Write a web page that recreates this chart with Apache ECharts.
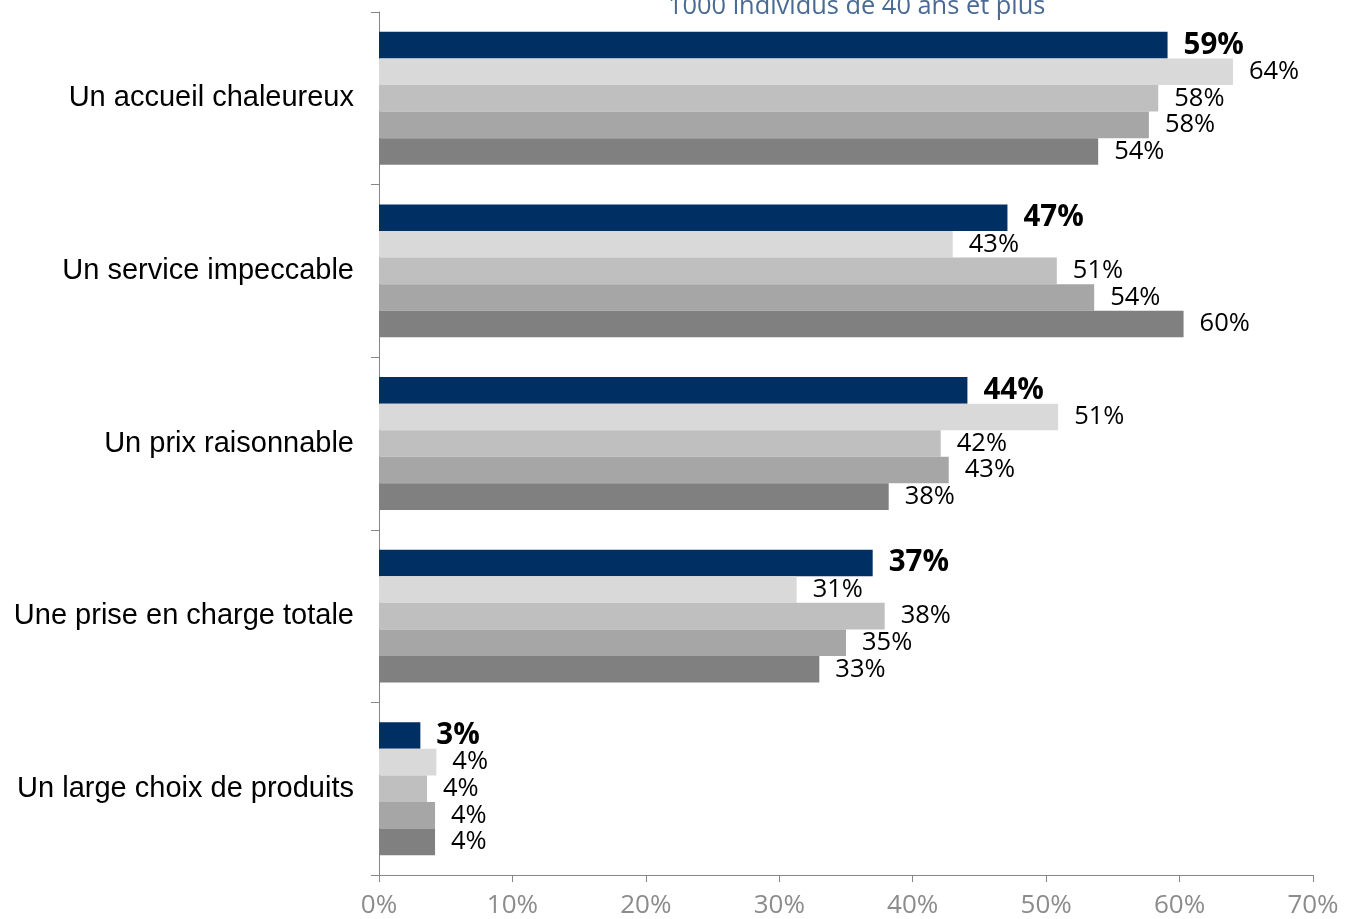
<!DOCTYPE html>
<html>
<head>
<meta charset="utf-8">
<script src="https://cdn.jsdelivr.net/npm/echarts@6/dist/echarts.min.js"></script>
<style>
html,body{margin:0;padding:0;background:#fff;}
#chart{width:1345px;height:919px;}
</style>
</head>
<body>
<div id="chart"></div>
<script>
const categories = ["Un accueil chaleureux", "Un service impeccable", "Un prix raisonnable", "Une prise en charge totale", "Un large choix de produits"];
const series1 = [59.1, 47.1, 44.1, 37.0, 3.1];
const series2 = [64.0, 43.0, 50.9, 31.3, 4.3];
const series3 = [58.4, 50.8, 42.1, 37.9, 3.6];
const series4 = [57.7, 53.6, 42.7, 35.0, 4.2];
const series5 = [53.9, 60.3, 38.2, 33.0, 4.2];
const xTicks = [0, 10, 20, 30, 40, 50, 60, 70];
const subtitle = "1000 individus de 40 ans et plus";

const seriesData = [series1, series2, series3, series4, series5];
const colors = ["#003063", "#D9D9D9", "#BFBFBF", "#A6A6A6", "#808080"];

const chart = echarts.init(document.getElementById('chart'));
const option = {
  animation: false,
  grid: { left: 379, right: 32, top: 12, bottom: 44, containLabel: false },
  graphic: [{
    type: 'text', left: 668, top: -6,
    style: { text: subtitle, fill: '#4A6A94', font: '25.4px "Open Sans", "Noto Sans", sans-serif' }
  }],
  xAxis: {
    type: 'value', min: xTicks[0], max: xTicks[xTicks.length - 1], interval: 10,
    splitLine: { show: false },
    axisLine: { show: true, lineStyle: { color: '#868686', width: 1 } },
    axisTick: { show: true, length: 7, lineStyle: { color: '#868686' } },
    axisLabel: { formatter: '{value}%', color: '#8C8C8C', fontSize: 26, fontFamily: '"Open Sans", "Noto Sans", sans-serif', margin: 18 }
  },
  yAxis: {
    type: 'category', data: categories, inverse: true,
    axisLine: { show: true, lineStyle: { color: '#868686', width: 1 } },
    axisTick: { show: true, length: 8, lineStyle: { color: '#868686' } },
    axisLabel: { color: '#000', fontSize: 29, fontFamily: '"Liberation Sans", Arial, sans-serif', margin: 25 }
  },
  series: seriesData.map((d, i) => ({
    type: 'bar', data: d,
    barGap: '0%', barCategoryGap: '23%',
    itemStyle: { color: colors[i] },
    label: {
      show: true, position: 'right', distance: 16,
      formatter: p => Math.round(p.value) + '%',
      color: '#000',
      fontSize: i === 0 ? 29.5 : 25.5,
      fontWeight: i === 0 ? 'bold' : 'normal',
      fontFamily: '"Open Sans", "Noto Sans", sans-serif'
    }
  }))
};
chart.setOption(option);
</script>
</body>
</html>
